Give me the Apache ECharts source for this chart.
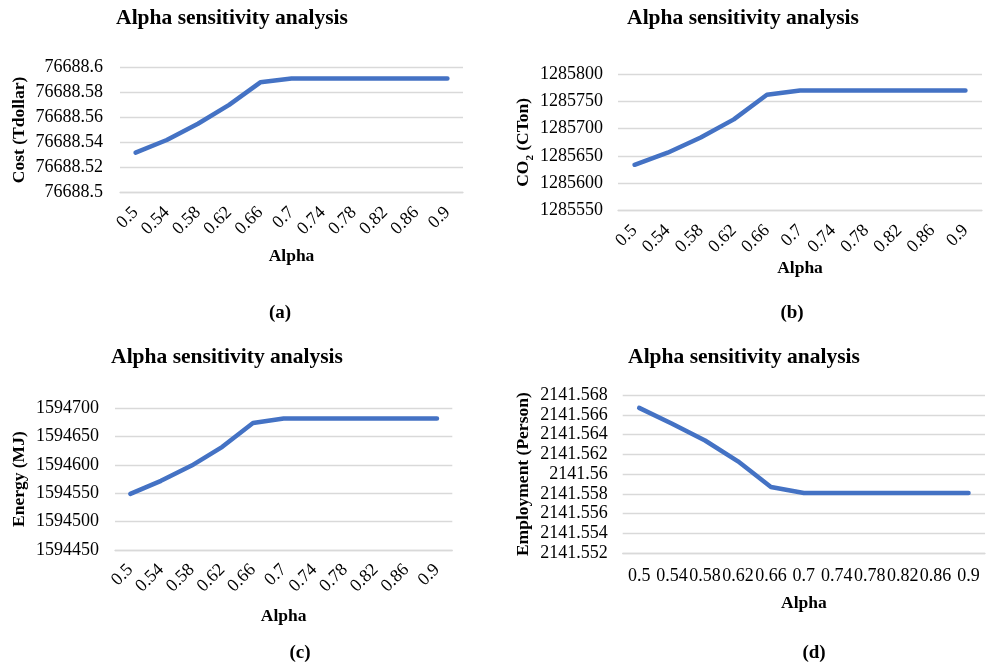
<!DOCTYPE html>
<html>
<head>
<meta charset="utf-8">
<script src="https://cdn.jsdelivr.net/npm/echarts@6/dist/echarts.min.js"></script>
<style>
html,body{margin:0;padding:0;background:#fff;}
#chart{width:986px;height:667px;}
</style>
</head>
<body>
<div id="chart"></div>
<script>
// ---- data ----
const alphaCategories = ['0.5','0.54','0.58','0.62','0.66','0.7','0.74','0.78','0.82','0.86','0.9'];
const costValues = [76688.532, 76688.542, 76688.555, 76688.570, 76688.588, 76688.591, 76688.591, 76688.591, 76688.591, 76688.591, 76688.591];
const co2Values = [1285634, 1285656, 1285684, 1285717, 1285762, 1285770, 1285770, 1285770, 1285770, 1285770, 1285770];
const energyValues = [1594549, 1594572, 1594599, 1594632, 1594674, 1594682, 1594682, 1594682, 1594682, 1594682, 1594682];
const employmentValues = [2141.5667, 2141.5651, 2141.5634, 2141.5613, 2141.5587, 2141.5581, 2141.5581, 2141.5581, 2141.5581, 2141.5581, 2141.5581];
const chartTitle = 'Alpha sensitivity analysis';
const xAxisTitle = 'Alpha';
const yTitles = ['Cost (Tdollar)', '{b|CO}{s|2}{b| (CTon)}', 'Energy (MJ)', 'Employment (Person)'];
const panelLabels = ['(a)', '(b)', '(c)', '(d)'];
const yRanges = [
  {min: 76688.5, max: 76688.6, interval: 0.02, dec: 2},
  {min: 1285550, max: 1285800, interval: 50, dec: 0},
  {min: 1594450, max: 1594700, interval: 50, dec: 0},
  {min: 2141.552, max: 2141.568, interval: 0.002, dec: 3}
];
const seriesData = [costValues, co2Values, energyValues, employmentValues];

// ---- layout ----
const FONT = '"Liberation Serif","Times New Roman",serif';
const grids = [
  {left: 120, top: 67.3, width: 343, height: 125.4},
  {left: 618, top: 74, width: 364, height: 136.7},
  {left: 115, top: 408.3, width: 337.3, height: 141.7},
  {left: 622.7, top: 395, width: 362.3, height: 158.3}
];
const yNameGap = [92, 86, 87, 90];
const xNameGap = [55, 48, 57, 41];
const yLabelMargin = [17, 15, 16, 15];
const xRotate = [45, 45, 45, 0];
const xLabelMargin = [17, 17, 17, 14];
const titlePos = [[232, 18], [743, 18], [227, 357], [744, 357]];
const panelPos = [[280, 313], [792, 313], [300, 653], [814, 653]];

const option = {
  animation: false,
  backgroundColor: '#fff',
  grid: grids.map(g => Object.assign({containLabel: false}, g)),
  xAxis: grids.map((g, i) => ({
    type: 'category',
    gridIndex: i,
    data: alphaCategories,
    boundaryGap: true,
    name: xAxisTitle,
    nameLocation: 'middle',
    nameGap: xNameGap[i],
    nameTextStyle: {fontFamily: FONT, fontWeight: 'bold', fontSize: 17.5, color: '#000'},
    axisLine: {show: true, lineStyle: {color: '#d9d9d9', width: 1.3}},
    axisTick: {show: false},
    axisLabel: {
      interval: 0, rotate: xRotate[i], margin: xLabelMargin[i], hideOverlap: false,
      fontFamily: FONT, fontSize: 18, color: '#000'
    }
  })),
  yAxis: grids.map((g, i) => ({
    type: 'value',
    gridIndex: i,
    min: yRanges[i].min,
    max: yRanges[i].max,
    interval: yRanges[i].interval,
    name: yTitles[i],
    nameLocation: 'middle',
    nameRotate: 90,
    nameGap: yNameGap[i],
    nameTextStyle: {
      fontFamily: FONT, fontWeight: 'bold', fontSize: 17.5, color: '#000',
      rich: {
        b: {fontFamily: FONT, fontWeight: 'bold', fontSize: 17.5, color: '#000'},
        s: {fontFamily: FONT, fontWeight: 'bold', fontSize: 11, color: '#000', verticalAlign: 'bottom', padding: [0, 0, -4, 0]}
      }
    },
    axisLine: {show: false},
    axisTick: {show: false},
    splitLine: {show: true, lineStyle: {color: '#d9d9d9', width: 1.3}},
    axisLabel: {
      margin: yLabelMargin[i], fontFamily: FONT, fontSize: 18, color: '#000',
      formatter: v => String(+(+v).toFixed(yRanges[i].dec))
    }
  })),
  series: seriesData.map((d, i) => ({
    type: 'line',
    xAxisIndex: i,
    yAxisIndex: i,
    data: d,
    showSymbol: false,
    symbol: 'none',
    smooth: false,
    lineStyle: {color: '#4472C4', width: 4.5, cap: 'round', join: 'round'},
    itemStyle: {color: '#4472C4'}
  })),
  graphic: [
    ...titlePos.map(p => ({
      type: 'text', x: p[0], y: p[1],
      style: {text: chartTitle, fontFamily: FONT, fontWeight: 'bold', fontSize: 21.5, fill: '#000', textAlign: 'center', textVerticalAlign: 'middle'}
    })),
    ...panelPos.map((p, i) => ({
      type: 'text', x: p[0], y: p[1],
      style: {text: panelLabels[i], fontFamily: FONT, fontWeight: 'bold', fontSize: 19, fill: '#000', textAlign: 'center', textVerticalAlign: 'middle'}
    }))
  ]
};

const chart = echarts.init(document.getElementById('chart'), null, {renderer: 'canvas'});
chart.setOption(option);
</script>
</body>
</html>
